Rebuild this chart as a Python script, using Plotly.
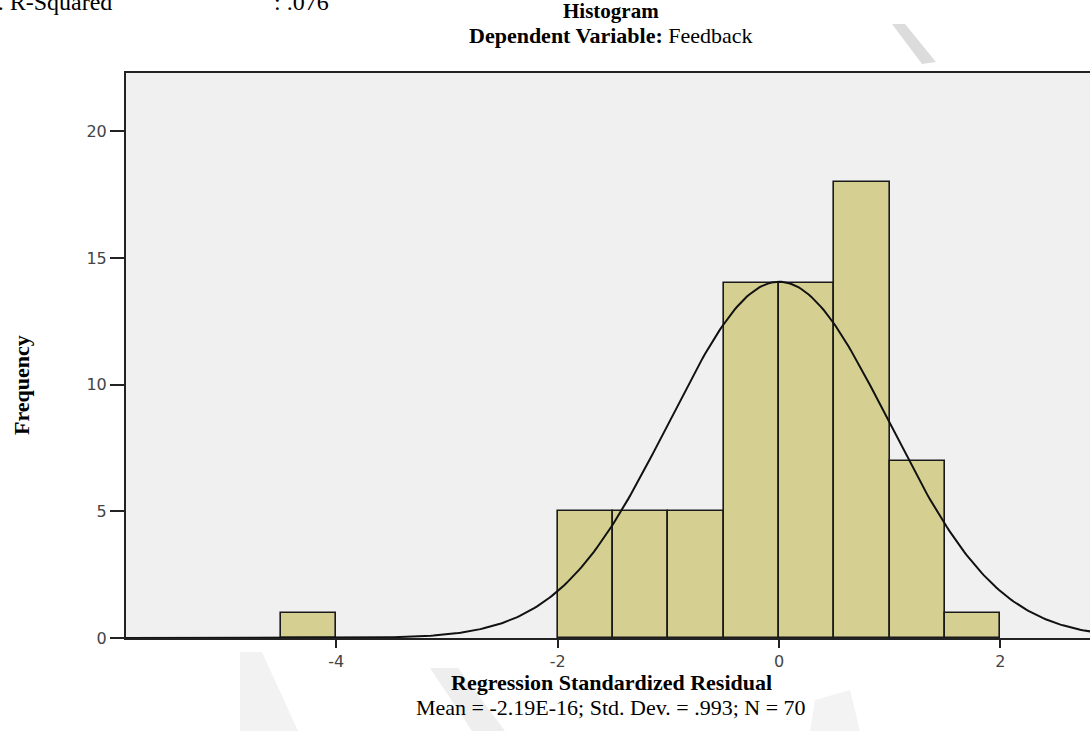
import numpy as np
import plotly.graph_objects as go

# Histogram data (bin width 0.5)
bin_left = [-4.5, -2.0, -1.5, -1.0, -0.5, 0.0, 0.5, 1.0, 1.5]
counts = [1, 5, 5, 5, 14, 14, 18, 7, 1]
bin_width = 0.5

# Summary statistics shown under the chart
mean_val = -2.19e-16
std_val = 0.993
n_obs = 70

x_ticks = [-4, -2, 0, 2]
y_ticks = [0, 5, 10, 15, 20]

centers = [b + bin_width / 2 for b in bin_left]

# Normal curve fitted from the stated mean / sd / N
xs = np.linspace(-6.0, 2.9, 400)
ys = n_obs * bin_width * np.exp(-0.5 * ((xs - mean_val) / std_val) ** 2) / (std_val * np.sqrt(2 * np.pi))

fig = go.Figure()
fig.add_trace(go.Bar(
    x=centers, y=counts, width=bin_width,
    marker=dict(color="#D5D092", line=dict(color="#1a1a1a", width=1.6)),
    showlegend=False, hoverinfo="x+y",
))
fig.add_trace(go.Scatter(
    x=xs, y=ys, mode="lines",
    line=dict(color="#111111", width=2),
    showlegend=False, hoverinfo="skip",
))

serif = "Liberation Serif, Times New Roman, serif"
sans = "DejaVu Sans, Arial, sans-serif"

L, R, T, B = 126, 0, 73, 93
W, H = 1090, 731

fig.update_layout(
    width=W, height=H,
    margin=dict(l=L, r=R, t=T, b=B),
    paper_bgcolor="white",
    plot_bgcolor="#F0F0F0",
    bargap=0,
    xaxis=dict(
        range=[-5.9, 2.81],
        tickvals=x_ticks, ticktext=[str(t) for t in x_ticks],
        ticks="outside", ticklen=8, tickwidth=2, tickcolor="#222",
        showline=True, linecolor="#222", linewidth=2, mirror=True,
        showgrid=False, zeroline=False,
        tickfont=dict(family=sans, size=16, color="#444"),
    ),
    yaxis=dict(
        range=[0, 22.3],
        tickvals=y_ticks, ticktext=[str(t) for t in y_ticks],
        ticks="outside", ticklen=14, tickwidth=2, tickcolor="#222",
        showline=True, linecolor="#222", linewidth=2,
        showgrid=False, zeroline=False,
        tickfont=dict(family=sans, size=16, color="#444"),
    ),
)

pw = W - L - R
ph = H - T - B


def px2paper(px, py):
    return (px - L) / pw, 1 - (py - T) / ph


def ann(text, px, py, size, angle=0, xanchor="center"):
    x, y = px2paper(px, py)
    fig.add_annotation(
        text=text, x=x, y=y,
        xref="paper", yref="paper", xanchor=xanchor, yanchor="middle",
        textangle=angle, showarrow=False,
        font=dict(family=serif, size=size, color="black"),
    )


def watermark(points, color="#E8E8E8"):
    path = ""
    for i, (px, py) in enumerate(points):
        x, y = px2paper(px, py)
        path += ("M" if i == 0 else "L") + f"{x},{y} "
    fig.add_shape(type="path", path=path + "Z", xref="paper", yref="paper",
                  fillcolor=color, line=dict(width=0), layer="below")


# faint watermark fragments visible outside the plot area
watermark([(892, 24), (905, 24), (936, 62), (922, 64)], "#DCDCDC")
watermark([(240, 652), (262, 652), (298, 731), (240, 731)], "#F2F2F2")
watermark([(430, 668), (458, 668), (505, 731), (472, 731)], "#EEEEEE")
watermark([(815, 700), (850, 690), (860, 731), (810, 731)], "#F3F3F3")

ann("<b>Histogram</b>", 611, 11, 21)
ann("<b>Dependent Variable:</b> Feedback", 611, 35, 22)
ann("<b>Regression Standardized Residual</b>", 611, 682, 22)
ann("Mean = -2.19E-16; Std. Dev. = .993; N = 70", 611, 707, 22)
ann("<b>Frequency</b>", 21, 385, 22, angle=-90)
ann("a. R-Squared", -15, 2, 24, xanchor="left")
ann(": .076", 272, 2, 24, xanchor="left")

fig.write_html("out.html", config={"displayModeBar": False},
               post_script="document.body.style.margin='0px';")
